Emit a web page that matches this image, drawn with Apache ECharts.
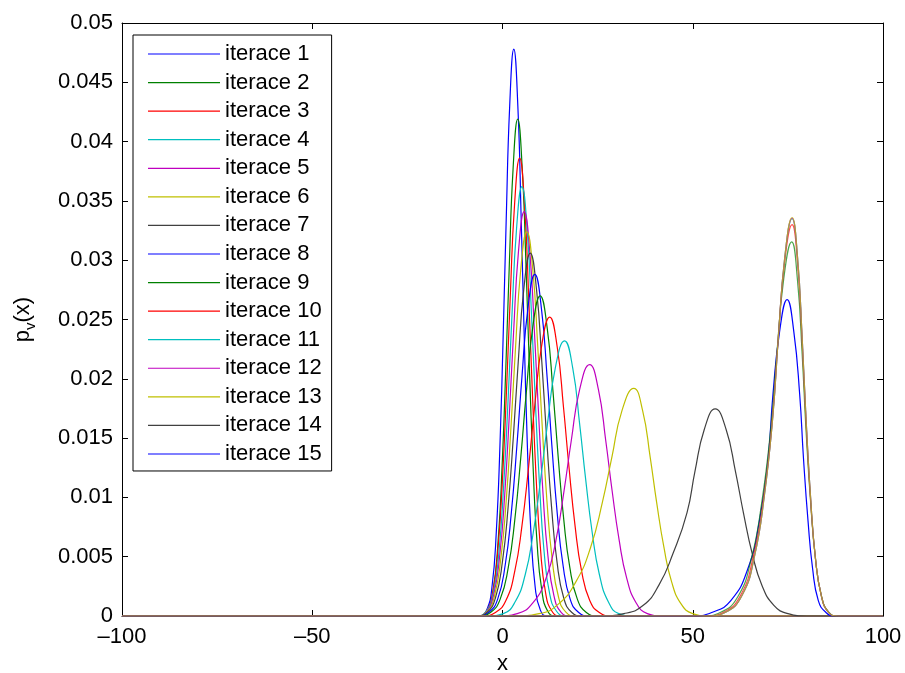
<!DOCTYPE html>
<html>
<head>
<meta charset="utf-8">
<script src="https://cdn.jsdelivr.net/npm/echarts@6/dist/echarts.min.js"></script>
<style>
html,body{margin:0;padding:0;background:#fff;}
#chart{width:905px;height:673px;}
</style>
</head>
<body>
<div id="chart"></div>
<script>
// ---- axis ticks ----
const xTicks = [-100, -50, 0, 50, 100];
const yTicks = [0, 0.005, 0.01, 0.015, 0.02, 0.025, 0.03, 0.035, 0.04, 0.045, 0.05];

// ---- series names & colours (MATLAB default colour order) ----
const seriesNames = ['iterace 1','iterace 2','iterace 3','iterace 4','iterace 5','iterace 6','iterace 7','iterace 8','iterace 9','iterace 10','iterace 11','iterace 12','iterace 13','iterace 14','iterace 15','iterace 16','iterace 17','iterace 18','iterace 19','iterace 20'];
const legendNames = seriesNames.slice(0, 15);
const colorOrder = ['#0000ff','#008000','#ff0000','#00bfbf','#bf00bf','#bfbf00','#404040'];

// ---- curves: [x, p_v(x)] ----
const curve01 = [[-100,0],[-5.9,0],[-4.16,0.0005],[-2.78,0.0024],[-1.61,0.0072],[-0.68,0.0143],[0.20,0.0239],[0.98,0.0335],[1.89,0.0430],[2.97,0.0478],[4.03,0.0430],[4.91,0.0335],[5.68,0.0239],[6.54,0.0143],[7.45,0.0072],[8.60,0.0024],[9.95,0.0005],[11.7,0],[100,0]];
const curve02 = [[-100,0],[-6.1,0],[-4.04,0.0004],[-2.49,0.0021],[-1.16,0.0063],[-0.11,0.0126],[0.88,0.0210],[1.76,0.0293],[2.78,0.0377],[4.0,0.0419],[5.19,0.0377],[6.20,0.0293],[7.06,0.0210],[8.04,0.0126],[9.06,0.0063],[10.36,0.0021],[11.89,0.0004],[13.9,0],[100,0]];
const curve03 = [[-100,0],[-6.5,0],[-4.30,0.0004],[-2.60,0.0019],[-1.15,0.0058],[0.00,0.0116],[1.09,0.0193],[2.05,0.0270],[3.17,0.0347],[4.5,0.0386],[5.79,0.0347],[6.87,0.0270],[7.80,0.0193],[8.85,0.0116],[9.95,0.0058],[11.35,0.0019],[13.0,0.0004],[15.1,0],[100,0]];
const curve04 = [[-100,0],[-6.7,0],[-4.31,0.0004],[-2.49,0.0018],[-0.94,0.0054],[0.29,0.0109],[1.45,0.0181],[2.48,0.0253],[3.68,0.0326],[5.1,0.0362],[6.48,0.0326],[7.64,0.0253],[8.63,0.0181],[9.76,0.0109],[10.94,0.0054],[12.44,0.0018],[14.21,0.0004],[16.5,0],[100,0]];
const curve05 = [[-100,0],[-6.8,0],[-4.32,0.0003],[-2.38,0.0017],[-0.73,0.0051],[0.58,0.0102],[1.82,0.0171],[2.91,0.0239],[4.19,0.0307],[5.7,0.0341],[7.17,0.0307],[8.40,0.0239],[9.47,0.0171],[10.67,0.0102],[11.93,0.0051],[13.53,0.0017],[15.41,0.0003],[17.9,0],[100,0]];
const curve06 = [[-100,0],[-6.9,0],[-4.22,0.0003],[-2.17,0.0016],[-0.42,0.0049],[0.97,0.0097],[2.28,0.0162],[3.44,0.0227],[4.79,0.0292],[6.4,0.0324],[7.96,0.0292],[9.27,0.0227],[10.40,0.0162],[11.68,0.0097],[13.02,0.0049],[14.72,0.0016],[16.72,0.0003],[19.3,0],[100,0]];
const curve07 = [[-100,0],[-7.0,0],[-4.08,0.0003],[-1.88,0.0015],[-0.01,0.0046],[1.48,0.0092],[2.89,0.0153],[4.13,0.0214],[5.58,0.0275],[7.3,0.0306],[8.95,0.0275],[10.34,0.0214],[11.54,0.0153],[12.89,0.0092],[14.31,0.0046],[16.11,0.0015],[18.23,0.0003],[21.0,0],[100,0]];
const curve08 = [[-100,0],[-6.7,0],[-3.64,0.0003],[-1.29,0.0014],[0.71,0.0043],[2.29,0.0086],[3.79,0.0144],[5.12,0.0202],[6.66,0.0259],[8.5,0.0288],[10.24,0.0259],[11.71,0.0202],[12.97,0.0144],[14.40,0.0086],[15.90,0.0043],[17.80,0.0014],[20.03,0.0003],[22.9,0],[100,0]];
const curve09 = [[-100,0],[-6.4,0],[-3.15,0.0003],[-0.63,0.0014],[1.52,0.0041],[3.23,0.0081],[4.84,0.0135],[6.27,0.0189],[7.93,0.0243],[9.9,0.0270],[11.74,0.0243],[13.28,0.0189],[14.61,0.0135],[16.11,0.0081],[17.69,0.0041],[19.69,0.0014],[22.04,0.0003],[25.1,0],[100,0]];
const curve10 = [[-100,0],[-5.5,0],[-1.86,0.0003],[0.89,0.0013],[3.24,0.0038],[5.11,0.0076],[6.87,0.0126],[8.43,0.0176],[10.24,0.0227],[12.4,0.0252],[14.37,0.0227],[16.03,0.0176],[17.46,0.0126],[19.07,0.0076],[20.78,0.0038],[22.93,0.0013],[25.45,0.0003],[28.7,0],[100,0]];
const curve11 = [[-100,0],[-3.8,0],[0.21,0.0002],[3.33,0.0012],[5.98,0.0035],[8.07,0.0070],[10.06,0.0116],[11.82,0.0162],[13.87,0.0209],[16.3,0.0232],[18.46,0.0209],[20.27,0.0162],[21.83,0.0116],[23.59,0.0070],[25.46,0.0035],[27.81,0.0012],[30.56,0.0002],[34.2,0],[100,0]];
const curve12 = [[-100,0],[-1.0,0],[3.87,0.0002],[7.97,0.0011],[11.47,0.0032],[14.05,0.0064],[16.19,0.0106],[18.08,0.0148],[20.28,0.0191],[22.9,0.0212],[25.2,0.0191],[27.13,0.0148],[28.79,0.0106],[30.66,0.0064],[32.64,0.0032],[35.14,0.0011],[38.08,0.0002],[41.9,0],[100,0]];
const curve13 = [[-100,0],[3.3,0],[9.61,0.0002],[14.67,0.0010],[19.31,0.0029],[23.17,0.0058],[26.26,0.0096],[28.75,0.0134],[31.38,0.0173],[34.5,0.0192],[36.84,0.0173],[38.81,0.0134],[40.5,0.0096],[42.42,0.0058],[44.43,0.0029],[46.98,0.0010],[49.98,0.0002],[53.9,0],[100,0]];
const curve14 = [[-100,0],[25.9,0],[31.9,0.0002],[37.0,0.0009],[41.1,0.0026],[44.73,0.0052],[48.48,0.0087],[50.58,0.0122],[53.01,0.0157],[55.9,0.01746],[58.79,0.0157],[61.22,0.0122],[63.32,0.0087],[65.68,0.0052],[68.17,0.0026],[71.32,0.0009],[75.02,0.0002],[79.9,0],[100,0]];
const curve15 = [[-100,0],[49.8,0],[55.0,0.0003],[60.0,0.0013],[64.5,0.0040],[67.5,0.0080],[69.8,0.0133],[71.08,0.0187],[72.83,0.0240],[74.8,0.02668],[76.55,0.0240],[78.1,0.0187],[79.1,0.0133],[80.3,0.0080],[81.5,0.0040],[83.0,0.0013],[85.0,0.0003],[87.3,0],[100,0]];
const curve16 = [[-100,0],[52.5,0],[57.2,0.0003],[61.8,0.0016],[65.3,0.0047],[68.1,0.0095],[70.5,0.0158],[72.1,0.0221],[73.9,0.0284],[76.0,0.03154],[77.5,0.0284],[78.75,0.0221],[79.75,0.0158],[81.0,0.0095],[82.3,0.0047],[83.9,0.0016],[85.8,0.0003],[88.2,0],[100,0]];
const curve17 = [[-100,0],[53.5,0],[58.0,0.0003],[62.5,0.0017],[65.9,0.0050],[68.6,0.0099],[70.9,0.0165],[72.4,0.0231],[74.1,0.0297],[76.1,0.0330],[77.55,0.0297],[78.75,0.0231],[79.75,0.0165],[80.95,0.0099],[82.2,0.0050],[83.8,0.0017],[85.7,0.0003],[88.1,0],[100,0]];
const curve18 = [[-100,0],[54.1,0],[58.5,0.0003],[62.9,0.0017],[66.2,0.0050],[68.8,0.0101],[71.04,0.0168],[72.5,0.0235],[74.17,0.0302],[76.1,0.0335],[77.55,0.0302],[78.75,0.0235],[79.75,0.0168],[80.95,0.0101],[82.2,0.0050],[83.8,0.0017],[85.7,0.0003],[88.1,0],[100,0]];
const curve19 = [[-100,0],[54.1,0],[58.5,0.0003],[62.9,0.0017],[66.2,0.0050],[68.8,0.0101],[71.04,0.0168],[72.5,0.0235],[74.17,0.0302],[76.1,0.03355],[77.55,0.0302],[78.75,0.0235],[79.75,0.0168],[80.95,0.0101],[82.2,0.0050],[83.8,0.0017],[85.7,0.0003],[88.1,0],[100,0]];
const curve20 = [[-100,0],[54.1,0],[58.5,0.0003],[62.9,0.0017],[66.2,0.0050],[68.8,0.0101],[71.04,0.0168],[72.5,0.0235],[74.17,0.0302],[76.1,0.0336],[77.55,0.0302],[78.75,0.0235],[79.75,0.0168],[80.95,0.0101],[82.2,0.0050],[83.8,0.0017],[85.7,0.0003],[88.1,0],[100,0]];

const curves = [curve01,curve02,curve03,curve04,curve05,curve06,curve07,curve08,curve09,curve10,curve11,curve12,curve13,curve14,curve15,curve16,curve17,curve18,curve19,curve20];

// ---- build chart ----
const FONT = '"Liberation Sans", Arial, Helvetica, sans-serif';
const chart = echarts.init(document.getElementById('chart'), null, {renderer: 'canvas'});

const series = curves.map((pts, i) => ({
  name: seriesNames[i],
  type: 'line',
  data: pts,
  xAxisIndex: 0,
  yAxisIndex: 0,
  showSymbol: false,
  symbol: 'none',
  smooth: 0.5,
  clip: true,
  animation: false,
  lineStyle: { width: 1.2, color: colorOrder[i % colorOrder.length], opacity: i >= 15 ? 0.7 : 1 },
  itemStyle: { color: colorOrder[i % colorOrder.length] },
  emphasis: { disabled: true }
}));

const xFmt = v => (v < 0 ? '\u2013' + Math.abs(v) : String(v));
const yFmt = v => (v === 0 ? '0' : String(parseFloat(Number(v).toFixed(3))));

const baseAxisLine = { show: true, onZero: false, lineStyle: { color: '#000', width: 1 } };
const baseTick = { show: true, inside: true, length: 6, lineStyle: { color: '#000', width: 1 } };

chart.setOption({
  backgroundColor: '#fff',
  animation: false,
  textStyle: { fontFamily: FONT },
  grid: { left: 122, right: 22, top: 23, bottom: 57, containLabel: false, outerBoundsMode: 'none', show: false },
  legend: {
    data: legendNames,
    orient: 'vertical',
    left: 133,
    top: 35,
    padding: [8, 10, 6, 15],
    icon: 'rect',
    itemWidth: 72,
    itemHeight: 1.2,
    itemGap: 6.57,
    backgroundColor: '#fff',
    borderColor: '#000',
    borderWidth: 1,
    borderRadius: 0,
    selectedMode: false,
    textStyle: { fontFamily: FONT, fontSize: 22, color: '#000', lineHeight: 22 }
  },
  xAxis: [
    {
      type: 'value', min: xTicks[0], max: xTicks[xTicks.length - 1], interval: 50,
      position: 'bottom',
      name: 'x', nameLocation: 'middle', nameGap: 34,
      nameTextStyle: { fontFamily: FONT, fontSize: 22, color: '#000' },
      axisLine: baseAxisLine, axisTick: baseTick, splitLine: { show: false },
      axisLabel: { show: true, fontFamily: FONT, fontSize: 22, color: '#000', margin: 10, formatter: xFmt, showMinLabel: true, showMaxLabel: true }
    },
    {
      type: 'value', min: xTicks[0], max: xTicks[xTicks.length - 1], interval: 50,
      position: 'top',
      axisLine: baseAxisLine, axisTick: baseTick, splitLine: { show: false },
      axisLabel: { show: false }
    }
  ],
  yAxis: [
    {
      type: 'value', min: yTicks[0], max: yTicks[yTicks.length - 1], interval: 0.005,
      position: 'left',
      name: '{a|p}{b|v}{a|(x)}', nameLocation: 'middle', nameGap: 84,
      nameTextStyle: {
        fontFamily: FONT, color: '#000',
        rich: {
          a: { fontFamily: FONT, fontSize: 22, color: '#000', lineHeight: 30 },
          b: { fontFamily: FONT, fontSize: 15, color: '#000', lineHeight: 14, verticalAlign: 'bottom' }
        }
      },
      axisLine: baseAxisLine, axisTick: baseTick, splitLine: { show: false },
      axisLabel: { show: true, fontFamily: FONT, fontSize: 22, color: '#000', margin: 9, formatter: yFmt, showMinLabel: true, showMaxLabel: true }
    },
    {
      type: 'value', min: yTicks[0], max: yTicks[yTicks.length - 1], interval: 0.005,
      position: 'right',
      axisLine: baseAxisLine, axisTick: baseTick, splitLine: { show: false },
      axisLabel: { show: false }
    }
  ],
  series: series
});
</script>
</body>
</html>
